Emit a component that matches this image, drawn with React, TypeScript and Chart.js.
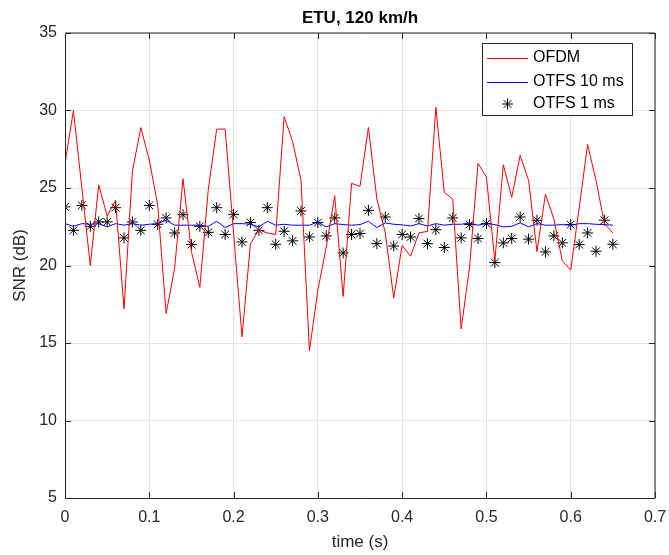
import { useEffect, useRef } from "react";
import { Chart, registerables } from "chart.js";

Chart.register(...registerables);

// Sample instants (s)
const timeS = [
  0, 0.01, 0.02, 0.03, 0.04, 0.05, 0.06, 0.07, 0.08, 0.09,
  0.1, 0.11, 0.12, 0.13, 0.14, 0.15, 0.16, 0.17, 0.18, 0.19,
  0.2, 0.21, 0.22, 0.23, 0.24, 0.25, 0.26, 0.27, 0.28, 0.29,
  0.3, 0.31, 0.32, 0.33, 0.34, 0.35, 0.36, 0.37, 0.38, 0.39,
  0.4, 0.41, 0.42, 0.43, 0.44, 0.45, 0.46, 0.47, 0.48, 0.49,
  0.5, 0.51, 0.52, 0.53, 0.54, 0.55, 0.56, 0.57, 0.58, 0.59,
  0.6, 0.61, 0.62, 0.63, 0.64, 0.65,
];

// SNR (dB) per scheme
const ofdmSnr = [
  26.6, 30.0, 25.0, 20.0, 25.2, 23.2, 24.2, 17.2, 26.1, 28.9,
  26.8, 23.9, 16.9, 19.8, 25.6, 20.9, 18.6, 24.9, 28.8, 28.8,
  22.1, 15.4, 21.4, 22.3, 22.1, 22.0, 29.6, 28.0, 25.5, 14.5,
  18.4, 21.2, 24.5, 18.0, 25.3, 25.1, 28.9, 24.3, 22.1, 17.9,
  21.3, 20.6, 22.1, 22.2, 30.2, 24.7, 24.3, 15.9, 19.9, 26.6,
  25.7, 20.3, 26.5, 24.4, 27.1, 25.5, 20.9, 24.6, 23.0, 20.3,
  19.7, 23.7, 27.8, 25.5, 22.7, 22.1,
];

const otfs10msSnr = [
  22.7, 22.53, 22.7, 22.66, 22.7, 22.49, 22.7, 22.6, 22.7, 22.6,
  22.66, 22.7, 22.92, 22.6, 22.6, 22.6, 22.6, 22.53, 22.85, 22.45,
  22.7, 22.7, 22.66, 22.49, 22.85, 22.6, 22.66, 22.6, 22.6, 22.6,
  22.8, 22.49, 22.7, 22.64, 22.6, 22.64, 22.85, 22.45, 22.75, 22.66,
  22.62, 22.55, 22.7, 22.55, 22.7, 22.6, 22.66, 22.66, 22.75, 22.6,
  22.7, 22.64, 22.49, 22.53, 22.75, 22.49, 22.7, 22.6, 22.6, 22.64,
  22.6, 22.7, 22.7, 22.66, 22.64, 22.6,
];

const otfs1msSnr = [
  23.78, 22.27, 23.88, 22.53, 22.81, 22.81, 23.73, 21.78, 22.81, 22.27,
  23.88, 22.66, 23.07, 22.1, 23.28, 21.35, 22.53, 22.14, 23.73, 22.0,
  23.3, 21.52, 22.77, 22.27, 23.73, 21.37, 22.21, 21.59, 23.52, 21.84,
  22.77, 21.91, 23.07, 20.81, 22.0, 22.06, 23.56, 21.41, 23.13, 21.26,
  22.0, 21.84, 23.03, 21.41, 22.31, 21.16, 23.07, 21.78, 22.64, 21.74,
  22.7, 20.19, 21.46, 21.74, 23.13, 21.7, 22.92, 20.88, 21.91, 21.46,
  22.64, 21.35, 22.1, 20.92, 22.92, 21.37,
];

const xTicks = [0, 0.1, 0.2, 0.3, 0.4, 0.5, 0.6, 0.7];
const xTickLabels = ["0", "0.1", "0.2", "0.3", "0.4", "0.5", "0.6", "0.7"];
const yTicks = [5, 10, 15, 20, 25, 30, 35];

const seriesNames = ["OFDM", "OTFS 10 ms", "OTFS 1 ms"];
const chartTitle = "ETU, 120 km/h";

const FONT = "'Liberation Sans', Arial, Helvetica, sans-serif";
const AXIS_COLOR = "#262626";
const TEXT_COLOR = "#262626";

const toPoints = (ys: number[]) => timeS.map((t, i) => ({ x: t, y: ys[i] }));

// Axes box, inward tick marks, title and legend
const framePlugin = {
  id: "frame",
  afterDraw(chart: any) {
    const { ctx, chartArea } = chart;
    const { left, right, top, bottom } = chartArea;
    const xs = chart.scales.x;
    const ys = chart.scales.y;
    ctx.save();

    // box
    ctx.strokeStyle = AXIS_COLOR;
    ctx.lineWidth = 1;
    ctx.beginPath();
    ctx.moveTo(left + 0.5, top);
    ctx.lineTo(left + 0.5, bottom + 0.5);
    ctx.lineTo(right, bottom + 0.5);
    ctx.lineTo(right, top);
    ctx.lineTo(left + 0.5, top);
    ctx.stroke();

    // tick marks pointing inwards
    const tl = 6;
    ctx.beginPath();
    xTicks.forEach((v) => {
      const px = Math.round(xs.getPixelForValue(v)) + 0.5;
      ctx.moveTo(px, bottom);
      ctx.lineTo(px, bottom - tl);
      ctx.moveTo(px, top);
      ctx.lineTo(px, top + tl);
    });
    yTicks.forEach((v) => {
      const py = Math.round(ys.getPixelForValue(v)) + 0.5;
      ctx.moveTo(left, py);
      ctx.lineTo(left + tl, py);
      ctx.moveTo(right, py);
      ctx.lineTo(right - tl, py);
    });
    ctx.stroke();

    // title
    ctx.fillStyle = "#000";
    ctx.font = `bold 17px ${FONT}`;
    ctx.textAlign = "center";
    ctx.textBaseline = "middle";
    ctx.fillText(chartTitle, (left + right) / 2, 18);

    // legend
    const lx = 482.5;
    const ly = 43.5;
    const lw = 150;
    const lh = 72;
    ctx.fillStyle = "#fff";
    ctx.fillRect(lx, ly, lw, lh);
    ctx.strokeStyle = AXIS_COLOR;
    ctx.lineWidth = 1;
    ctx.strokeRect(lx, ly, lw, lh);

    const rowY = [58, 81.5, 104];
    const sampleX0 = 487;
    const sampleX1 = 528;
    const textX = 533;
    ctx.font = `16px ${FONT}`;
    ctx.textAlign = "left";
    ctx.textBaseline = "middle";
    chart.data.datasets.forEach((ds: any, i: number) => {
      const y = rowY[i];
      if (ds.showLine === false) {
        const cx = (sampleX0 + sampleX1) / 2;
        const r = 5.5;
        ctx.strokeStyle = ds.borderColor;
        ctx.lineWidth = 1;
        ctx.beginPath();
        for (let k = 0; k < 4; k++) {
          const a = (k * Math.PI) / 4;
          ctx.moveTo(cx - r * Math.cos(a), y - r * Math.sin(a));
          ctx.lineTo(cx + r * Math.cos(a), y + r * Math.sin(a));
        }
        ctx.stroke();
      } else {
        ctx.strokeStyle = ds.borderColor;
        ctx.lineWidth = 1;
        ctx.beginPath();
        ctx.moveTo(sampleX0, Math.round(y) + 0.5);
        ctx.lineTo(sampleX1, Math.round(y) + 0.5);
        ctx.stroke();
      }
      ctx.fillStyle = "#000";
      ctx.fillText(ds.label, textX, y);
    });

    ctx.restore();
  },
};

export default function App() {
  const canvasRef = useRef<HTMLCanvasElement | null>(null);

  useEffect(() => {
    const canvas = canvasRef.current;
    if (!canvas) return;
    const chart = new Chart(canvas, {
      type: "line",
      data: {
        datasets: [
          {
            label: seriesNames[0],
            data: toPoints(ofdmSnr),
            borderColor: "#ff0000",
            borderWidth: 1,
            pointRadius: 0,
            tension: 0,
            fill: false,
          },
          {
            label: seriesNames[1],
            data: toPoints(otfs10msSnr),
            borderColor: "#0000ff",
            borderWidth: 1,
            pointRadius: 0,
            tension: 0,
            fill: false,
          },
          {
            label: seriesNames[2],
            data: toPoints(otfs1msSnr),
            showLine: false,
            borderColor: "#000000",
            backgroundColor: "#000000",
            borderWidth: 1,
            pointStyle: "star",
            pointRadius: 5.5,
          },
        ],
      },
      options: {
        responsive: false,
        animation: false,
        events: [],
        layout: { padding: { left: 0, right: 14, top: 33, bottom: 0 } },
        plugins: {
          legend: { display: false },
          title: { display: false },
          tooltip: { enabled: false },
        },
        scales: {
          x: {
            type: "linear",
            min: 0,
            max: 0.7,
            afterBuildTicks: (s: any) => {
              s.ticks = xTicks.map((v) => ({ value: v }));
            },
            afterFit: (s: any) => {
              s.height = 57;
              s.paddingLeft = 0;
              s.paddingRight = 0;
            },
            ticks: {
              callback: (v: any) => {
                const i = xTicks.findIndex((t) => Math.abs(t - Number(v)) < 1e-9);
                return i >= 0 ? xTickLabels[i] : "";
              },
              color: TEXT_COLOR,
              font: { family: FONT, size: 16 },
              padding: 10,
              maxRotation: 0,
              autoSkip: false,
            },
            grid: { color: "#e3e3e3", drawTicks: false },
            border: { display: false },
            title: {
              display: true,
              text: "time (s)",
              color: TEXT_COLOR,
              font: { family: FONT, size: 17 },
              padding: { top: 0, bottom: 2 },
            },
          },
          y: {
            type: "linear",
            min: 5,
            max: 35,
            afterBuildTicks: (s: any) => {
              s.ticks = yTicks.map((v) => ({ value: v }));
            },
            afterFit: (s: any) => {
              s.width = 65;
              s.paddingTop = 0;
              s.paddingBottom = 0;
            },
            ticks: {
              callback: (v: any) => String(v),
              color: TEXT_COLOR,
              font: { family: FONT, size: 16 },
              padding: 8,
            },
            grid: { color: "#e3e3e3", drawTicks: false },
            border: { display: false },
            title: {
              display: true,
              text: "SNR (dB)",
              color: TEXT_COLOR,
              font: { family: FONT, size: 17 },
              padding: { top: 10, bottom: 0 },
            },
          },
        },
      },
      plugins: [framePlugin],
    });
    return () => chart.destroy();
  }, []);

  return (
    <div
      style={{
        position: "fixed",
        left: 0,
        top: 0,
        width: 669,
        height: 555,
        background: "#fff",
      }}
    >
      <canvas ref={canvasRef} width={669} height={555} style={{ display: "block" }} />
    </div>
  );
}
